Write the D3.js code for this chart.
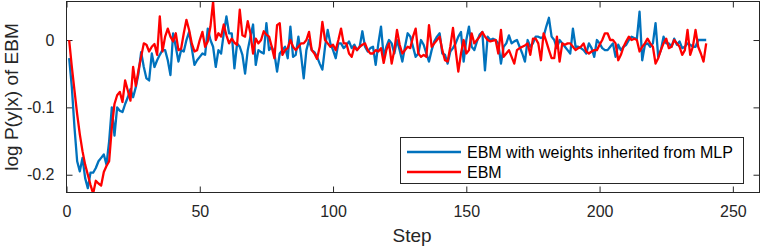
<!DOCTYPE html>
<html>
<head>
<meta charset="utf-8">
<script src="https://cdn.jsdelivr.net/npm/d3@7"></script>
<style>
html,body{margin:0;padding:0;background:#fff;}
svg{display:block;font-family:"Liberation Sans",Arial,Helvetica,sans-serif;}
</style>
</head>
<body>
<div id="chart"></div>
<script>
const seriesNames = ["EBM with weights inherited from MLP", "EBM"];
const xTicks = [0, 50, 100, 150, 200, 250];
const yTicks = [-0.2, -0.1, 0];
const yTickLabels = ["-0.2", "-0.1", "0"];
const xLabel = "Step";
const yLabel = "log P(y|x) of EBM";

const blueValues = [
-0.027,-0.07,-0.13,-0.18,-0.195,-0.175,-0.205,-0.22,-0.197,-0.197,
-0.19,-0.18,-0.175,-0.17,-0.185,-0.15,-0.1,-0.142,-0.1,-0.105,
-0.107,-0.095,-0.085,-0.073,-0.085,-0.07,-0.05,-0.018,-0.04,-0.057,
-0.06,-0.02,-0.04,-0.03,-0.022,-0.015,-0.015,-0.03,-0.052,0.01,
-0.01,-0.032,-0.015,-0.017,0.0,0.012,-0.012,-0.037,-0.03,-0.025,
-0.02,-0.022,0.017,0.0,-0.01,-0.04,-0.015,-0.02,0.01,0.035,
0.01,0.01,-0.042,-0.005,-0.01,-0.022,-0.05,-0.015,0.005,0.023,
-0.037,-0.015,-0.018,-0.02,0.025,-0.015,-0.01,-0.02,-0.047,-0.02,
-0.015,-0.01,-0.027,0.02,-0.025,-0.022,0.005,-0.022,-0.057,-0.015,
0.0,-0.015,-0.018,-0.025,-0.035,-0.044,-0.01,0.015,-0.005,-0.015,
-0.027,-0.005,-0.005,-0.012,-0.008,-0.002,-0.012,-0.007,-0.015,-0.01,
0.013,-0.01,-0.017,-0.012,-0.01,-0.037,-0.005,0.02,-0.025,-0.01,
0.0,-0.005,-0.02,0.0,-0.015,-0.032,-0.01,0.01,0.005,-0.01,
-0.025,-0.02,0.0,-0.007,-0.02,-0.032,-0.015,-0.002,0.005,0.01,
-0.02,-0.022,-0.035,-0.017,-0.012,-0.005,0.005,0.012,-0.032,0.0,
0.02,-0.01,-0.015,-0.002,0.008,0.012,-0.045,0.005,0.0,0.002,
0.0,-0.005,-0.035,-0.01,-0.005,0.007,-0.005,-0.002,0.0,-0.01,
-0.02,-0.032,0.0,-0.01,-0.005,0.005,0.005,0.003,0.005,0.02,
0.033,0.005,0.0,-0.012,0.0,-0.005,-0.01,-0.015,-0.02,0.017,
-0.01,-0.01,-0.012,-0.015,-0.02,-0.005,-0.012,-0.025,0.0,-0.005,
-0.012,-0.015,-0.015,-0.01,-0.005,-0.025,-0.007,-0.015,-0.01,-0.007,
0.0,0.005,0.003,0.002,0.042,-0.03,-0.007,-0.005,-0.01,-0.005,
0.025,-0.025,-0.015,0.005,-0.005,-0.005,-0.01,0.002,-0.007,-0.002,
-0.012,-0.01,-0.005,-0.007,-0.01,-0.01,0.0,0.0,0.0,0.0
];

const redValues = [
0,-0.04,-0.075,-0.11,-0.14,-0.165,-0.185,-0.2,-0.215,-0.228,
-0.209,-0.213,-0.216,-0.196,-0.187,-0.18,-0.13,-0.095,-0.082,-0.077,
-0.092,-0.06,-0.075,-0.09,-0.04,-0.068,-0.045,-0.025,-0.005,-0.007,
-0.017,-0.01,-0.006,-0.022,0.035,-0.017,0.005,0.017,0.005,-0.002,
0.01,-0.015,-0.013,0.01,0.03,0.015,-0.005,-0.017,-0.015,0.0,
0.012,-0.01,-0.002,0.02,0.057,0.0,0.01,0.005,0.023,0.007,
-0.005,0.002,-0.004,-0.007,0.045,0.007,0.005,0.028,0.01,-0.02,
0.002,-0.005,0.0,0.013,0.008,0.005,-0.01,-0.027,0.022,0.025,
-0.022,-0.015,-0.012,0.0,-0.01,-0.015,-0.01,-0.005,-0.005,0.0,
0.012,-0.015,-0.02,-0.028,-0.01,0.027,0.0,-0.005,-0.01,-0.007,
-0.015,0.0,0.017,-0.005,-0.005,-0.02,-0.025,-0.01,-0.015,-0.01,
-0.007,-0.005,-0.015,-0.02,-0.02,-0.015,-0.017,-0.012,-0.034,-0.015,
-0.005,-0.035,-0.015,0.015,-0.007,-0.02,-0.015,-0.01,-0.012,0.005,
0.017,-0.02,-0.025,-0.022,-0.025,0.022,-0.01,-0.005,0.0,0.005,
-0.015,-0.03,-0.032,-0.01,0.018,-0.015,-0.047,-0.02,0.0,-0.02,
-0.015,0.01,-0.005,0.0,0.005,0.012,0.005,0.0,-0.002,-0.001,
0.0,-0.02,0.015,-0.025,-0.02,-0.015,-0.025,-0.035,-0.015,-0.012,
-0.01,-0.008,-0.005,-0.022,0.002,0.002,-0.005,-0.03,0.01,-0.002,
-0.015,-0.027,-0.027,0.005,-0.032,-0.005,-0.007,-0.005,-0.005,-0.01,
-0.015,-0.012,-0.01,-0.005,-0.017,-0.02,-0.017,-0.015,-0.015,-0.007,
0.0,0.01,0.01,0.0,0.0,-0.005,-0.03,-0.022,-0.01,-0.002,
0.005,0.0,0.002,0.0,-0.017,-0.01,-0.005,0.002,-0.005,-0.01,
-0.035,-0.027,-0.015,-0.005,0.002,-0.012,-0.01,0.0,-0.005,-0.01,
-0.022,-0.015,0.015,-0.022,-0.01,0.015,-0.01,-0.02,-0.032,-0.005
];

const colors = ["#0072BD", "#FF0000"];
const W = 761, H = 250;
const L = 66.5, R = 759.5, T = 1.5, B = 192.5;
const textColor = "#262626";
const fontStack = '"Liberation Sans", Arial, Helvetica, sans-serif';

const svg = d3.select("#chart").append("svg").attr("width", W).attr("height", H);

const x = d3.scaleLinear().domain([0, 260]).range([L, R]);
const y = d3.scaleLinear().domain([-0.2264, 0.0572]).range([B, T]);

svg.append("defs").append("clipPath").attr("id", "clip")
  .append("rect").attr("x", L).attr("y", T).attr("width", R - L).attr("height", B - T);

// axes with inward ticks
const tickLen = 6;
const axB = d3.axisBottom(x).tickValues(xTicks).tickSize(-tickLen).tickPadding(13).tickFormat(d3.format("d"));
const axT = d3.axisTop(x).tickValues(xTicks).tickSize(-tickLen).tickFormat("");
const axL = d3.axisLeft(y).tickValues(yTicks).tickSize(-tickLen).tickPadding(12).tickFormat((d, i) => yTickLabels[i]);
const axR = d3.axisRight(y).tickValues(yTicks).tickSize(-tickLen).tickFormat("");

function styleAxis(g) {
  g.select(".domain").remove();
  g.selectAll(".tick line").attr("stroke", textColor).attr("stroke-width", 1);
  g.selectAll(".tick text").attr("fill", textColor).style("font-family", fontStack).style("font-size", "16px");
}
svg.append("g").attr("transform", `translate(0,${B})`).call(axB).call(styleAxis);
svg.append("g").attr("transform", `translate(0,${T})`).call(axT).call(styleAxis);
svg.append("g").attr("transform", `translate(${L},0)`).call(axL).call(styleAxis);
svg.append("g").attr("transform", `translate(${R},0)`).call(axR).call(styleAxis);
svg.selectAll("g .tick").filter(function(){ return !d3.select(this).select("text").text(); });

// lines
const line = d3.line().x((d, i) => x(i + 1)).y(d => y(d));
const plot = svg.append("g").attr("clip-path", "url(#clip)");
[blueValues, redValues].forEach((vals, k) => {
  plot.append("path").datum(vals).attr("d", line)
    .attr("fill", "none").attr("stroke", colors[k]).attr("stroke-width", 2.3)
    .attr("stroke-linejoin", "round");
});

// box
svg.append("rect").attr("x", L).attr("y", T).attr("width", R - L).attr("height", B - T)
  .attr("fill", "none").attr("stroke", textColor).attr("stroke-width", 1);

// axis labels
svg.append("text").attr("x", 412).attr("y", 242).attr("text-anchor", "middle")
  .attr("fill", textColor).style("font-size", "19px").text(xLabel);
svg.append("text").attr("transform", "translate(18,97) rotate(-90)").attr("text-anchor", "middle")
  .attr("fill", textColor).style("font-size", "19px").text(yLabel);

// legend
const lg = svg.append("g");
lg.append("rect").attr("x", 400.5).attr("y", 137.5).attr("width", 343).attr("height", 46)
  .attr("fill", "#fff").attr("stroke", textColor).attr("stroke-width", 1);
seriesNames.forEach((name, k) => {
  const yy = 152 + k * 20;
  lg.append("line").attr("x1", 407).attr("x2", 461).attr("y1", yy).attr("y2", yy)
    .attr("stroke", colors[k]).attr("stroke-width", 2.3);
  lg.append("text").attr("x", 467).attr("y", yy + 6).attr("fill", "#000")
    .style("font-size", "16px").text(name);
});
</script>
</body>
</html>
